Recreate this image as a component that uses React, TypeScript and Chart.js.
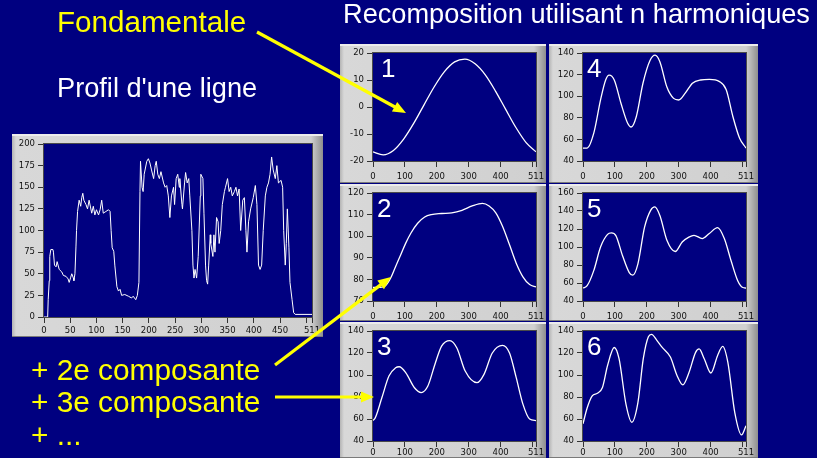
import React, { useEffect, useRef } from "react";
import { Chart, registerables } from "chart.js";
Chart.register(...registerables);

// ---------- DATA ----------
const PROFILE_X = [0, 7, 8, 10, 11, 13, 17, 18, 20, 23, 25, 29, 34, 37, 42, 46, 48, 51, 53, 56, 57, 59, 61, 62, 64, 67, 70, 72, 74, 76, 80, 83, 86, 91, 94, 97, 100, 104, 107, 110, 113, 118, 123, 126, 128, 130, 133, 135, 139, 142, 145, 148, 154, 161, 167, 170, 175, 178, 181, 183, 184, 187, 189, 191, 196, 199, 202, 205, 209, 212, 214, 217, 220, 223, 228, 231, 234, 237, 240, 243, 247, 249, 252, 255, 258, 259, 263, 264, 268, 270, 273, 276, 278, 282, 284, 286, 288, 291, 294, 298, 299, 303, 305, 308, 310, 312, 314, 317, 318, 322, 324, 326, 329, 332, 334, 337, 340, 344, 346, 350, 353, 356, 359, 363, 366, 369, 372, 375, 379, 382, 385, 387, 390, 394, 399, 403, 406, 409, 412, 415, 418, 422, 425, 428, 431, 434, 437, 441, 444, 447, 452, 455, 457, 460, 462, 464, 467, 469, 473, 476, 479, 511];
const PROFILE_Y = [0, 0, 20, 42, 70, 78, 78, 75, 60, 58, 64, 55, 52, 48, 47, 44, 40, 46, 50, 45, 42, 50, 82, 100, 122, 135, 128, 138, 143, 135, 130, 125, 135, 120, 128, 118, 124, 118, 124, 135, 120, 122, 124, 122, 100, 80, 76, 60, 35, 30, 32, 25, 26, 24, 22, 24, 20, 25, 40, 145, 180, 150, 145, 165, 180, 183, 178, 170, 160, 175, 180, 165, 160, 168, 155, 150, 152, 140, 115, 140, 150, 130, 160, 165, 150, 160, 130, 125, 155, 167, 155, 160, 140, 100, 60, 45, 55, 45, 70, 140, 165, 160, 120, 60, 42, 38, 60, 95, 85, 70, 95, 75, 115, 110, 85, 100, 130, 145, 150, 160, 145, 150, 140, 145, 150, 140, 148, 100, 135, 138, 100, 75, 110, 125, 138, 152, 130, 60, 55, 60, 100, 140, 150, 155, 165, 185, 170, 160, 175, 155, 158, 150, 100, 60, 85, 125, 80, 40, 20, 5, 3, 3];

const H1_X = [0, 32, 64, 96, 128, 160, 192, 224, 256, 288, 320, 352, 384, 416, 448, 480, 511];
const H1_Y = [-16.6, -17.7, -16.1, -11.9, -6.0, 0.8, 7.5, 13.1, 16.7, 17.7, 16.0, 11.9, 5.9, -0.9, -7.6, -13.2, -16.6];

const H2_X = [0, 23, 39, 55, 71, 87, 103, 119, 140, 162, 183, 215, 247, 279, 311, 343, 364, 385, 406, 428, 449, 470, 491, 511];
const H2_Y = [76.3, 76.3, 77, 80.5, 86, 91.4, 96.9, 101.5, 106, 108.9, 110, 110.5, 110.8, 112, 114, 115.2, 114, 110.8, 104.6, 96, 87.5, 81.2, 77.6, 76.5];

const H3_X = [0, 7, 28, 50, 71, 82, 103, 130, 151, 172, 194, 215, 241, 263, 289, 326, 348, 374, 406, 428, 449, 470, 491, 511];
const H3_Y = [58.6, 61, 79.5, 99, 106.6, 107.5, 102, 88.4, 84, 90, 109.6, 126.2, 131.3, 124.6, 103.6, 93, 100.6, 120, 127, 120, 97.6, 73.5, 60, 58.6];

const H4_X = [0, 13, 34, 55, 71, 82, 98, 119, 140, 151, 167, 188, 210, 226, 241, 263, 284, 300, 321, 343, 369, 396, 428, 449, 470, 491, 511];
const H4_Y = [52, 52, 66, 96.6, 115, 119.5, 115, 93.5, 75, 71.5, 81, 112, 133, 138, 132, 108.5, 98, 96.5, 103, 112, 115, 115.5, 113.5, 106, 81, 61, 52];

const H5_X = [0, 13, 34, 55, 77, 89, 103, 124, 145, 156, 172, 193, 212, 225, 241, 263, 289, 311, 332, 348, 374, 396, 422, 443, 464, 485, 501, 511];
const H5_Y = [54.4, 57, 74, 100, 114, 115.6, 112.7, 90.3, 71.6, 68.7, 81, 122, 140.7, 144.5, 135, 107.5, 95, 105.6, 111, 113, 109.4, 115, 121.5, 109.4, 85, 62.6, 55, 54.4];

const H6_X = [0, 13, 29, 45, 61, 77, 98, 113, 135, 153, 172, 189, 205, 215, 231, 247, 274, 295, 313, 332, 353, 364, 380, 401, 422, 438, 454, 476, 497, 511];
const H6_Y = [55.7, 70, 81, 83.4, 88.6, 108.6, 125, 114.8, 73, 57, 74.6, 114.8, 134.8, 137, 131.7, 125.5, 116.3, 99.4, 91, 102, 120.6, 123.7, 114.8, 101.8, 117.8, 126, 111.7, 65.5, 45.5, 53.8];

const X_TICKS_SMALL = [0, 100, 200, 300, 400, 500, 511];
const X_TICKS_BIG = [0, 50, 100, 150, 200, 250, 300, 350, 400, 450, 500, 511];
const X_HIDDEN_LABELS = [500];

const TITLE = "Recomposition utilisant n harmoniques";
const LABEL_FUND = "Fondamentale";
const LABEL_PROFILE = "Profil d'une ligne";
const LABEL_LINES = ["+ 2e composante", "+ 3e composante", "+ ..."];

// ---------- STYLE / LAYOUT ----------
const NAVY = "#000080";
const YELLOW = "#ffff00";
const FONT = '"Liberation Sans", Arial, sans-serif';
const TICK_FONT = '"DejaVu Sans", Verdana, sans-serif';

type Box = { x: number; y: number; w: number; h: number };
type PanelSpec = {
  xs: number[];
  ys: number[];
  yMin: number;
  yMax: number;
  yStep: number;
  xTicks: number[];
  tag: string;
  tagDx: number;
  smooth: boolean;
  frame: Box;
  plot: { l: number; t: number; r: number; b: number };
  lineWidth: number;
  xPad: number;
};

const plotPlugin = {
  id: "plotFrame",
  beforeDraw(chart: any) {
    const { ctx, chartArea: a } = chart;
    ctx.save();
    ctx.fillStyle = NAVY;
    ctx.fillRect(a.left, a.top, a.right - a.left, a.bottom - a.top);
    ctx.restore();
  },
  afterDraw(chart: any, _args: any, opts: any) {
    const { ctx, chartArea: a } = chart;
    ctx.save();
    ctx.strokeStyle = "#4a4a4a";
    ctx.lineWidth = 1;
    ctx.strokeRect(a.left - 0.5, a.top - 0.5, a.right - a.left + 1, a.bottom - a.top + 1);
    if (opts && opts.tag) {
      ctx.fillStyle = "#ffffff";
      ctx.font = `26px ${FONT}`;
      ctx.textBaseline = "top";
      ctx.textAlign = "left";
      ctx.fillText(opts.tag, a.left + 4 + (opts.dx || 0), a.top + 4);
    }
    ctx.restore();
  },
};

function Panel({ spec }: { spec: PanelSpec }) {
  const ref = useRef<HTMLCanvasElement>(null);
  useEffect(() => {
    const { frame, plot } = spec;
    const yW = plot.l - frame.x;
    const padTop = plot.t - frame.y;
    const padRight = frame.x + frame.w - plot.r;
    const xH = frame.y + frame.h - plot.b;
    const tickFont = { family: TICK_FONT, size: 8.5 };
    const chart = new Chart(ref.current!, {
      type: "line",
      data: {
        datasets: [
          {
            data: spec.xs.map((x, i) => ({ x, y: spec.ys[i] })),
            borderColor: "#ffffff",
            borderWidth: spec.lineWidth,
            pointRadius: 0,
            fill: false,
            tension: 0,
            cubicInterpolationMode: spec.smooth ? "monotone" : "default",
          } as any,
        ],
      },
      options: {
        animation: false,
        responsive: false,
        devicePixelRatio: 1,
        events: [],
        layout: { padding: { left: 0, top: padTop, right: padRight, bottom: 0 } },
        plugins: {
          legend: { display: false },
          tooltip: { enabled: false },
          plotFrame: { tag: spec.tag, dx: spec.tagDx },
        } as any,
        scales: {
          x: {
            type: "linear",
            min: 0,
            max: 511,
            afterBuildTicks: (s: any) => {
              s.ticks = spec.xTicks.map((v) => ({ value: v }));
            },
            afterFit: (s: any) => {
              s.height = xH;
              s.paddingLeft = 0;
              s.paddingRight = 0;
            },
            ticks: {
              autoSkip: false,
              maxRotation: 0,
              color: "#111",
              font: tickFont,
              padding: spec.xPad,
              callback: (v: any) => (X_HIDDEN_LABELS.includes(v) ? "" : String(v)),
            },
            grid: { drawOnChartArea: false, drawTicks: true, tickLength: 6, color: "#333" },
            border: { display: false },
          },
          y: {
            type: "linear",
            min: spec.yMin,
            max: spec.yMax,
            afterFit: (s: any) => {
              s.width = yW;
              s.paddingTop = 0;
              s.paddingBottom = 0;
            },
            ticks: { stepSize: spec.yStep, color: "#111", font: tickFont, padding: 3 },
            grid: { drawOnChartArea: false, drawTicks: true, tickLength: 6, color: "#333" },
            border: { display: false },
          },
        },
      },
      plugins: [plotPlugin as any],
    });
    return () => chart.destroy();
  }, [spec]);
  const f = spec.frame;
  return (
    <div
      style={{
        position: "absolute",
        left: f.x,
        top: f.y,
        width: f.w,
        height: f.h,
        boxSizing: "border-box",
        background:
          "linear-gradient(to right, #b4b4b4 0px, #d8d8d8 4px, #d0d0d0 calc(100% - 12px), #8e8e8e 100%)",
        boxShadow: "inset 0 2px 0 #ececec, inset 0 -1px 0 #7a7a7a",
      }}
    >
      <canvas ref={ref} width={f.w} height={f.h} style={{ display: "block" }} />
    </div>
  );
}

const COL1 = { fx: 340, fw: 206, pl: 373, pr: 536 };
const COL2 = { fx: 549, fw: 209, pl: 583, pr: 746 };
const ROW1 = { fy: 44, fh: 139, pt: 53, pb: 161, xPad: 5 };
const ROW2 = { fy: 184, fh: 137, pt: 193, pb: 301, xPad: 5 };
const ROW3 = { fy: 322, fh: 136, pt: 331, pb: 441, xPad: 1 };

function small(col: any, row: any, xs: number[], ys: number[], yMin: number, yMax: number, yStep: number, tag: string, tagDx = 0): PanelSpec {
  return {
    xs, ys, yMin, yMax, yStep, tag, tagDx,
    xTicks: X_TICKS_SMALL,
    smooth: true,
    lineWidth: 1.3,
    xPad: row.xPad,
    frame: { x: col.fx, y: row.fy, w: col.fw, h: row.fh },
    plot: { l: col.pl, t: row.pt, r: col.pr, b: row.pb },
  };
}

const PANELS: PanelSpec[] = [
  {
    xs: PROFILE_X, ys: PROFILE_Y, yMin: 0, yMax: 200, yStep: 25, tag: "", tagDx: 0,
    xTicks: X_TICKS_BIG, smooth: false, lineWidth: 1, xPad: 3,
    frame: { x: 12, y: 134, w: 311, h: 203 },
    plot: { l: 44, t: 144, r: 312, b: 317 },
  },
  small(COL1, ROW1, H1_X, H1_Y, -20, 20, 10, "1", 4),
  small(COL1, ROW2, H2_X, H2_Y, 70, 120, 10, "2"),
  small(COL1, ROW3, H3_X, H3_Y, 40, 140, 20, "3"),
  small(COL2, ROW1, H4_X, H4_Y, 40, 140, 20, "4"),
  small(COL2, ROW2, H5_X, H5_Y, 40, 160, 20, "5"),
  small(COL2, ROW3, H6_X, H6_Y, 40, 140, 20, "6"),
];

function Arrow({ x1, y1, x2, y2 }: { x1: number; y1: number; x2: number; y2: number }) {
  const dx = x2 - x1;
  const dy = y2 - y1;
  const len = Math.hypot(dx, dy);
  const ux = dx / len;
  const uy = dy / len;
  const hl = 13;
  const hw = 5.5;
  const bx = x2 - ux * hl;
  const by = y2 - uy * hl;
  const pts = `${x2},${y2} ${bx - uy * hw},${by + ux * hw} ${bx + uy * hw},${by - ux * hw}`;
  return (
    <g>
      <line x1={x1} y1={y1} x2={bx + ux * 2} y2={by + uy * 2} stroke={YELLOW} strokeWidth={3.2} />
      <polygon points={pts} fill={YELLOW} />
    </g>
  );
}

export default function App() {
  return (
    <div
      style={{
        position: "fixed",
        left: 0,
        top: 0,
        width: 817,
        height: 458,
        overflow: "hidden",
        background: NAVY,
      }}
    >
      {PANELS.map((p, i) => (
        <Panel key={i} spec={p} />
      ))}
      <svg
        width={817}
        height={458}
        style={{ position: "absolute", left: 0, top: 0, pointerEvents: "none" }}
      >
        <text x={57} y={32} fill={YELLOW} fontFamily={FONT} fontSize={29.6}>
          {LABEL_FUND}
        </text>
        <text x={57} y={97} fill="#ffffff" fontFamily={FONT} fontSize={27.2}>
          {LABEL_PROFILE}
        </text>
        <text x={343} y={23} fill="#ffffff" fontFamily={FONT} fontSize={27.2}>
          {TITLE}
        </text>
        <text x={31} y={380} fill={YELLOW} fontFamily={FONT} fontSize={29.8}>
          {LABEL_LINES[0]}
        </text>
        <text x={31} y={412} fill={YELLOW} fontFamily={FONT} fontSize={29.8}>
          {LABEL_LINES[1]}
        </text>
        <text x={31} y={445} fill={YELLOW} fontFamily={FONT} fontSize={29.8}>
          {LABEL_LINES[2]}
        </text>
        <Arrow x1={257} y1={32} x2={406} y2={113} />
        <Arrow x1={275} y1={365} x2={391} y2={277} />
        <Arrow x1={275} y1={397} x2={374} y2={397} />
      </svg>
    </div>
  );
}
